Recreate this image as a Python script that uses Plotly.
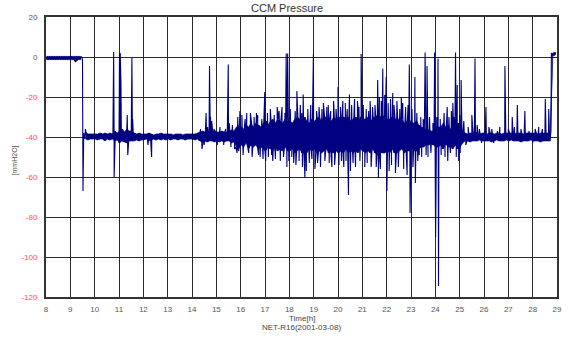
import plotly.graph_objects as go

# Sampling grid of the envelope lists: one bucket every 0.1 h starting at 8:00
T0 = 8.0
STEP = 0.1

# Lower / upper edge of the dense part of the trace per 0.1 h bucket [mmH2O], one row per hour
band_lo = [
    -1.3, -1.3, -1.3, -1.3, -1.3, -1.3, -1.3, -1.3, -1.3, -1.3,            # 8
    -1.3, -1.3, -2.5, -1.3, -1.3, -1.3, -41, -41.5, -41, -41,              # 9
    -41, -41.5, -41, -41, -42, -41, -41.5, -41, -42, -41.5,                # 10
    -43, -42, -42.5, -43, -42, -42, -42, -41.5, -42, -41.5,                # 11
    -41.5, -41, -42, -41.5, -41, -41.5, -41, -41.5, -41, -41.5,            # 12
    -41, -41.5, -41, -41, -41.5, -41, -41, -41.5, -41, -41,                # 13
    -41, -41.5, -41, -42, -42.5, -42, -42.5, -42, -42, -42.5,              # 14
    -42, -42.5, -42, -42.5, -42, -42, -43, -42.5, -45, -46,                # 15
    -44, -45, -43, -46, -44, -45, -44, -46, -45, -46,                      # 16
    -47, -45, -46, -47, -45, -47, -46, -47, -45, -47,                      # 17
    -47, -46, -48, -47, -46, -48, -48, -48, -46, -47,                      # 18
    -46, -48, -47, -48, -47, -46, -48, -47, -48, -47,                      # 19
    -48, -47, -48, -46, -48, -47, -48, -47, -48, -46,                      # 20
    -47, -48, -47, -48, -46, -48, -49, -47, -48, -48,                      # 21
    -47, -48, -46, -48, -48, -47, -46, -48, -47, -47,                      # 22
    -45, -47, -47, -46, -45, -45, -44, -44, -43.5, -44,                    # 23
    -45, -45, -44, -46, -43.5, -45, -45, -46, -44, -46,                    # 24
    -45, -43, -42, -42, -42.5, -42, -42, -42, -41.5, -42,                  # 25
    -42, -42, -42, -42.5, -42, -41.5, -42, -42, -42, -41.5,                # 26
    -42, -41.5, -42, -42, -42, -42.5, -42, -42, -42, -41.5,                # 27
    -42, -42, -42, -42.5, -42, -42, -42, -42, 0.5, 1.0,                    # 28
]
band_hi = [
    0.3, 0.3, 0.3, 0.3, 0.3, 0.3, 0.3, 0.3, 0.3, 0.3,                      # 8
    0.3, 0.3, 0.3, 0.3, 0.3, -38, -37.5, -38.5, -38.5, -38.5,              # 9
    -38.5, -38.5, -38, -38.5, -38, -38.5, -38, -38.5, -37, -38,            # 10
    -37, -36, -37.5, -36, -37, -37, -38, -38.5, -38, -38.5,                # 11
    -38.5, -38.5, -38, -38.5, -39, -38.5, -38.5, -38, -38.5, -38.5,        # 12
    -38.5, -38.5, -39, -38.5, -38.5, -38.5, -39, -38.5, -38.5, -38.5,      # 13
    -38.5, -38.5, -38, -37.5, -37, -37.5, -37, -37.5, -37.5, -37,          # 14
    -37.5, -37.5, -37, -37.5, -37.5, -37, -36.5, -37, -35, -34,            # 15
    -35, -36, -34, -35, -33, -35, -33, -34, -35, -33,                      # 16
    -32, -34, -32, -31, -33, -31, -32, -33, -31, -32,                      # 17
    -32, -33, -31, -30, -31, -32, -30, -32, -33, -31,                      # 18
    -32, -31, -30, -32, -30, -30, -31, -32, -30, -31,                      # 19
    -30, -31, -30, -31, -30, -32, -31, -30, -32, -30,                      # 20
    -31, -31, -30, -32, -31, -30, -29, -30, -29, -30,                      # 21
    -31, -31, -30, -32, -30, -32, -31, -33, -32, -31,                      # 22
    -33, -33, -32, -34, -35, -36, -36, -36.5, -37, -37,                    # 23
    -36, -35, -35, -33, -35, -34, -36, -35, -35, -33,                      # 24
    -35, -37, -38, -38.5, -38, -38, -37.5, -38, -38.5, -38,                # 25
    -38, -38.5, -38, -38, -38.5, -38, -38, -38.5, -38, -38,                # 26
    -38, -38, -38.5, -38, -38, -38, -38.5, -38, -38, -38,                  # 27
    -38, -38, -38.5, -38, -38, -38, -38, -37.5, 2.0, 2.3,                  # 28
]

# Large isolated excursions: time [h] and pressure [mmH2O]
spike_t = [
    9.52, 10.78, 10.80, 11.02, 11.05, 11.08, 11.34, 11.36, 11.53, 11.56,
    12.19, 12.34, 14.41, 14.45, 14.58, 14.72, 14.76, 14.81, 15.30, 15.49,
    15.53, 15.85, 15.97, 16.25, 16.65, 16.80, 16.99, 17.03, 17.32, 17.50,
    17.87, 17.90, 17.93, 18.18, 18.31, 18.45, 18.57, 18.64, 18.70, 18.99,
    19.05, 19.40, 19.54, 19.75, 20.00, 20.04, 20.30, 20.33, 20.43, 20.47,
    20.51, 20.80, 20.95, 21.10, 21.26, 21.46, 21.57, 21.63, 21.66, 21.84,
    21.98, 22.01, 22.25, 22.48, 22.60, 22.93, 22.96, 23.16, 23.18, 23.34,
    23.58, 23.66, 23.70, 23.97, 24.01, 24.11, 24.13, 24.49, 24.51, 24.72,
    24.83, 24.86, 24.90, 24.96, 25.06, 25.17, 25.25, 25.50, 25.63, 25.81,
    25.90, 26.08, 26.32, 26.40, 26.86, 27.16, 27.37, 27.68, 28.00, 28.52,
    28.66, 28.77,
]
spike_v = [
    -67, 2.5, -60, 2.2, 2.0, -13, -29, -49, -0.5, -31,
    -44, -50, -46, -43, -28, -4.5, -30, -32, -44, -3.7,
    -33, -48, -27, -28, -28, -50, -17.5, -52, -52, -25,
    1.8, -55, 1.8, -53, -17, -24, -18.7, -60.5, -57, 1.5,
    -56, -23, -25, -55, -15, -54, -23, -52, -69, -18.7,
    -57, -22, 1.5, -55, -27, -30, -55, -11.5, -60.5, -5.7,
    -10, -67, -18, -55, -20, -3.8, -78, -10, -63, -49,
    2.3, -4.5, -50, 2.3, -90, -0.7, -114.5, -25, -52, -23,
    2.3, -50, -14, -52, -11.5, -32, -44, -29, -0.7, -36,
    -43, -25, -36, -43, -4.5, -30, -24, -27, -43, -21,
    -26, 2.0,
]

# Smaller flickers around the dense part: time [h] and pressure [mmH2O]
flicker_t = [
    9.62, 14.35, 14.50, 14.64, 14.90, 15.04, 15.15, 15.38, 15.60, 15.66,
    15.75, 15.88, 15.92, 16.05, 16.10, 16.18, 16.33, 16.40, 16.47, 16.55,
    16.70, 16.74, 16.87, 16.92, 17.10, 17.14, 17.22, 17.27, 17.38, 17.43,
    17.58, 17.63, 17.70, 17.76, 17.82, 17.98, 18.04, 18.10, 18.24, 18.27,
    18.36, 18.40, 18.51, 18.54, 18.76, 18.82, 18.88, 18.93, 19.12, 19.16,
    19.22, 19.28, 19.34, 19.46, 19.60, 19.64, 19.70, 19.82, 19.86, 19.92,
    20.10, 20.14, 20.20, 20.24, 20.38, 20.56, 20.62, 20.68, 20.72, 20.86,
    20.90, 21.04, 21.16, 21.20, 21.32, 21.36, 21.42, 21.52, 21.70, 21.74,
    21.78, 21.92, 22.06, 22.10, 22.16, 22.20, 22.30, 22.36, 22.42, 22.54,
    22.66, 22.70, 22.78, 22.84, 22.88, 23.04, 23.08, 23.24, 23.28, 23.40,
    23.44, 23.50, 23.62, 23.76, 23.82, 23.90, 24.06, 24.20, 24.24, 24.36,
    24.40, 24.56, 24.62, 24.66, 24.78, 25.00, 25.02, 25.35, 25.72, 26.20,
    26.55, 26.65, 27.00, 27.25, 27.52, 27.85, 28.10, 28.25, 28.40,
]
flicker_v = [
    -36, -36, -44, -35, -36, -44, -35, -36, -45, -34,
    -46, -30, -47, -29, -49, -31, -48, -28, -50, -30,
    -29, -49, -31, -51, -28, -50, -26, -49, -29, -51,
    -27, -52, -25, -50, -28, -52, -26, -50, -27, -54,
    -25, -52, -28, -55, -26, -53, -24, -51, -27, -53,
    -25, -55, -26, -52, -24, -53, -27, -22, -54, -26,
    -25, -52, -22, -55, -26, -24, -53, -21, -55, -25,
    -52, -24, -26, -53, -22, -55, -25, -24, -20, -56,
    -22, -19, -23, -57, -21, -54, -24, -58, -22, -26,
    -23, -56, -25, -59, -24, -26, -55, -28, -52, -30,
    -50, -31, -49, -30, -48, -33, -30, -31, -49, -28,
    -50, -30, -48, -27, -30, -29, -48, -35, -34, -35,
    -37, -35, -36, -35, -36, -37, -36, -35, -36,
]

x_ticks = list(range(8, 30))
y_ticks = [20, 0, -20, -40, -60, -80, -100, -120]

TRACE = "#000080"

# Solid core of the trace: polygons between the bucket edges, split where the level jumps
fill_x, fill_y = [], []
run = []
for i, (lo, hi) in enumerate(zip(band_lo, band_hi)):
    t = T0 + i * STEP + STEP / 4
    if hi >= lo:
        run.append((t, lo, hi))
    if (hi < lo or i == len(band_lo) - 1) and run:
        fill_x += [r[0] for r in run] + [r[0] for r in reversed(run)] + [None]
        fill_y += [r[2] for r in run] + [r[1] for r in reversed(run)] + [None]
        run = []

# Zigzag through each bucket's low and high edge, then merge in the excursions by time
points = []
for i, (lo, hi) in enumerate(zip(band_lo, band_hi)):
    t = T0 + i * STEP
    points.append((t, lo))
    points.append((t + STEP / 2, hi))
points.extend(zip(spike_t, spike_v))
points.extend(zip(flicker_t, flicker_v))
points.sort(key=lambda p: p[0])
times = [p[0] for p in points]
values = [p[1] for p in points]

fig = go.Figure()
fig.add_trace(go.Scatter(
    x=fill_x, y=fill_y, mode="lines", fill="toself", fillcolor=TRACE,
    line=dict(color=TRACE, width=0.6), connectgaps=False, hoverinfo="skip",
))
fig.add_trace(go.Scatter(
    x=times, y=values, mode="lines",
    line=dict(color=TRACE, width=1.1),
    hoverinfo="skip",
))

grid = "#2a2a2a"
font = "Liberation Sans, Arial, sans-serif"
y_text = [
    str(v) if v >= 0 else f"<span style='color:#ff4a4a'>{v}</span>"
    for v in y_ticks
]

fig.update_layout(
    width=568, height=338,
    margin=dict(l=46, r=6, t=17, b=41),
    paper_bgcolor="white", plot_bgcolor="white",
    showlegend=False,
    font=dict(family=font, size=8, color="#555"),
    xaxis=dict(
        range=[8, 29], tickvals=x_ticks, ticktext=[str(v) for v in x_ticks],
        showgrid=True, gridcolor=grid, gridwidth=1, zeroline=False,
        showline=True, linecolor="#333", linewidth=2, mirror=True,
        ticks="outside", ticklen=3, tickcolor="rgba(0,0,0,0)",
        tickfont=dict(size=8, color="#555"),
    ),
    yaxis=dict(
        range=[-120, 20], tickvals=y_ticks, ticktext=y_text,
        showgrid=True, gridcolor=grid, gridwidth=1, zeroline=False,
        showline=True, linecolor="#333", linewidth=2, mirror=True,
        ticks="outside", ticklen=5, tickcolor="rgba(0,0,0,0)",
        tickfont=dict(size=8, color="#555"),
    ),
    annotations=[
        dict(text="CCM Pressure", x=0.471, y=1.032, xref="paper", yref="paper",
             showarrow=False, xanchor="center", yanchor="middle",
             font=dict(family=font, size=11, color="#333")),
        dict(text="Time[h]", x=0.5, y=-0.076, xref="paper", yref="paper",
             showarrow=False, xanchor="center", yanchor="middle",
             font=dict(family=font, size=8, color="#444")),
        dict(text="NET-R16(2001-03-08)", x=0.5, y=-0.108, xref="paper", yref="paper",
             showarrow=False, xanchor="center", yanchor="middle",
             font=dict(family=font, size=8, color="#444")),
        dict(text="[mmH2O]", x=-0.060, y=0.489, xref="paper", yref="paper",
             showarrow=False, xanchor="center", yanchor="middle", textangle=-90,
             font=dict(family=font, size=7, color="#555")),
    ],
)

fig.write_html("out.html")
